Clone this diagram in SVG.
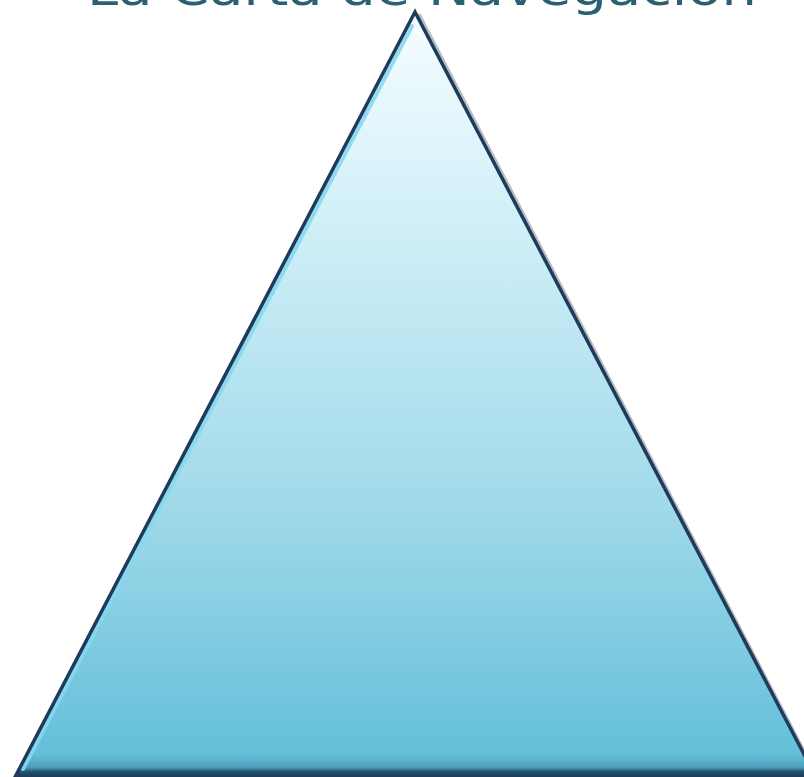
<svg xmlns="http://www.w3.org/2000/svg" width="804" height="777" viewBox="0 0 804 777">
  <defs>
    <linearGradient id="fillGrad" x1="0" y1="12" x2="0" y2="777" gradientUnits="userSpaceOnUse">
      <stop offset="0" stop-color="#f6fdff"/>
      <stop offset="0.3" stop-color="#cdeef7"/>
      <stop offset="0.65" stop-color="#a0d9e9"/>
      <stop offset="1" stop-color="#5ebdd8"/>
    </linearGradient>
    <linearGradient id="bottomShade" x1="0" y1="755" x2="0" y2="777" gradientUnits="userSpaceOnUse">
      <stop offset="0" stop-color="#2a5f7a" stop-opacity="0"/>
      <stop offset="0.55" stop-color="#2a6784" stop-opacity="0.35"/>
      <stop offset="0.75" stop-color="#1e4660" stop-opacity="0.9"/>
      <stop offset="1" stop-color="#1b3d55" stop-opacity="1"/>
    </linearGradient>
    <style>
      .title { font-family: "DejaVu Sans", "Liberation Sans", sans-serif; font-size: 46px; fill: #2a6171; }
      .outline { fill: none; stroke: #1f3b5b; stroke-width: 3.5; stroke-linejoin: miter; }
      .hl { fill: none; stroke: #86d8f0; stroke-width: 4; stroke-linecap: round; opacity: 0.9; }
      .shadow { fill: none; stroke: #0e2236; stroke-width: 3; opacity: 0.3; }
    </style>
  </defs>

  <rect width="804" height="777" fill="#ffffff"/>

  <g id="title">
    <text class="title" x="87" y="5" textLength="670" lengthAdjust="spacingAndGlyphs">La Carta de Navegación</text>
  </g>

  <g id="triangle">
    <polygon points="415,12 14,779 817,779" fill="url(#fillGrad)"/>
    <polygon points="415,12 14,779 817,779" fill="url(#bottomShade)"/>
    <line class="hl" x1="412" y1="26" x2="23" y2="769"/>
    <line class="shadow" x1="419" y1="14" x2="814" y2="770"/>
    <polygon class="outline" points="415,12 14,779 817,779"/>
  </g>
</svg>
